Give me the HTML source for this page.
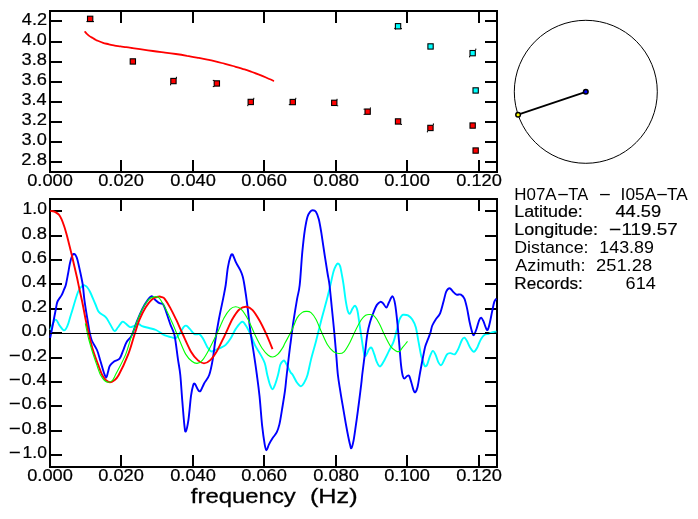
<!DOCTYPE html>
<html lang="en"><head><meta charset="utf-8"><title>H07A-TA - I05A-TA</title>
<style>html,body{margin:0;padding:0;background:#fff;}svg{display:block;will-change:transform;}text{font-family:"Liberation Sans",sans-serif;fill:#000;}</style>
</head><body>
<svg width="698" height="519" viewBox="0 0 698 519">
<rect x="0" y="0" width="698" height="519" fill="#fff"/>
<g id="top">
<path d="M85.2 32.0C85.5 32.3 86.2 33.2 86.9 33.9C87.6 34.5 88.4 35.3 89.2 35.9C90.0 36.5 90.7 36.9 91.6 37.4C92.5 37.9 93.5 38.6 94.5 39.1C95.5 39.6 95.9 40.0 97.3 40.6C98.7 41.2 101.2 42.3 103.1 42.9C105.0 43.5 107.0 43.8 108.9 44.3C110.8 44.8 112.8 45.2 114.7 45.6C116.6 46.0 118.6 46.1 120.5 46.4C122.4 46.7 124.3 46.9 126.2 47.2C128.1 47.5 129.7 47.7 132.0 48.0C134.3 48.3 136.5 48.6 140.0 49.1C143.5 49.6 148.7 50.4 152.9 51.0C157.1 51.6 161.2 52.1 165.0 52.6C168.8 53.1 172.1 53.5 175.8 54.0C179.5 54.5 183.2 55.1 187.0 55.8C190.8 56.4 195.0 57.2 198.8 57.9C202.6 58.6 206.2 59.4 210.0 60.2C213.8 61.1 217.9 62.0 221.7 63.0C225.5 64.0 229.2 64.9 233.0 66.0C236.8 67.1 241.4 68.4 244.6 69.4C247.8 70.4 249.7 71.2 252.0 72.0C254.3 72.8 256.1 73.5 258.4 74.4C260.7 75.3 263.5 76.4 266.0 77.5C268.5 78.6 272.1 80.2 273.3 80.8" fill="none" stroke="#f00" stroke-width="1.8" stroke-linejoin="round" stroke-linecap="round"/>
<path d="M86.4 21.6H94M176.4 76.8V78.6M170.6 84V85.4M212.8 80.4H214.4M212.8 86.6H214.4M253.8 97.8V99.4M247.8 105V106.2M295.8 97.8V99.2M288.8 104.6H290.2M337 98.8V100.2M337.2 105.8H338.2M370.4 107.4V108.8M363.6 109.2H364.8M363.6 114.4H364.8M394.2 28.4H395.6M400.6 28.6H402M395.4 28.4V29.6M475.8 48.6V50M469.6 56V57.4M400.6 124.4H402M433.4 123.4V125M427.4 131V132.4" stroke="#000" stroke-width="1" fill="none"/>
<rect x="87.5" y="16.2" width="5.3" height="5.3" fill="#f00" stroke="#000" stroke-width="1.1"/>
<rect x="130.2" y="58.8" width="5.3" height="5.3" fill="#f00" stroke="#000" stroke-width="1.1"/>
<rect x="170.8" y="78.4" width="5.3" height="5.3" fill="#f00" stroke="#000" stroke-width="1.1"/>
<rect x="214.2" y="80.8" width="5.3" height="5.3" fill="#f00" stroke="#000" stroke-width="1.1"/>
<rect x="248.1" y="99.3" width="5.3" height="5.3" fill="#f00" stroke="#000" stroke-width="1.1"/>
<rect x="290.1" y="99.4" width="5.3" height="5.3" fill="#f00" stroke="#000" stroke-width="1.1"/>
<rect x="331.6" y="100.2" width="5.3" height="5.3" fill="#f00" stroke="#000" stroke-width="1.1"/>
<rect x="365.0" y="109.0" width="5.3" height="5.3" fill="#f00" stroke="#000" stroke-width="1.1"/>
<rect x="395.4" y="118.8" width="5.3" height="5.3" fill="#f00" stroke="#000" stroke-width="1.1"/>
<rect x="427.8" y="125.3" width="5.3" height="5.3" fill="#f00" stroke="#000" stroke-width="1.1"/>
<rect x="470.0" y="122.9" width="5.3" height="5.3" fill="#f00" stroke="#000" stroke-width="1.1"/>
<rect x="473.0" y="147.9" width="5.3" height="5.3" fill="#f00" stroke="#000" stroke-width="1.1"/>
<rect x="395.4" y="23.6" width="5.3" height="5.3" fill="#0ff" stroke="#000" stroke-width="1.1"/>
<rect x="427.9" y="43.8" width="5.3" height="5.3" fill="#0ff" stroke="#000" stroke-width="1.1"/>
<rect x="470.0" y="50.5" width="5.3" height="5.3" fill="#0ff" stroke="#000" stroke-width="1.1"/>
<rect x="473.0" y="87.8" width="5.3" height="5.3" fill="#0ff" stroke="#000" stroke-width="1.1"/>
<path d="M121.0 11.0V23.0M121.0 172.0V160.0M193.0 11.0V23.0M193.0 172.0V160.0M264.0 11.0V23.0M264.0 172.0V160.0M336.0 11.0V23.0M336.0 172.0V160.0M407.0 11.0V23.0M407.0 172.0V160.0M479.0 11.0V23.0M479.0 172.0V160.0M50.0 21.0H62.0M497.0 21.0H485.0M50.0 42.0H62.0M497.0 42.0H485.0M50.0 62.0H62.0M497.0 62.0H485.0M50.0 82.0H62.0M497.0 82.0H485.0M50.0 102.0H62.0M497.0 102.0H485.0M50.0 122.0H62.0M497.0 122.0H485.0M50.0 142.0H62.0M497.0 142.0H485.0M50.0 162.0H62.0M497.0 162.0H485.0" stroke="#000" stroke-width="2" fill="none" shape-rendering="crispEdges"/>
<rect x="50.0" y="11.0" width="447.0" height="161.0" fill="none" stroke="#000" stroke-width="2" shape-rendering="crispEdges"/>
<text x="21.80" y="24.6" font-size="15.6" textLength="25.21" lengthAdjust="spacingAndGlyphs" stroke="#000" stroke-width="0.2">4.2</text>
<text x="21.80" y="44.7" font-size="15.6" textLength="24.98" lengthAdjust="spacingAndGlyphs" stroke="#000" stroke-width="0.2">4.0</text>
<text x="21.51" y="64.8" font-size="15.6" textLength="25.38" lengthAdjust="spacingAndGlyphs" stroke="#000" stroke-width="0.2">3.8</text>
<text x="21.51" y="84.9" font-size="15.6" textLength="25.38" lengthAdjust="spacingAndGlyphs" stroke="#000" stroke-width="0.2">3.6</text>
<text x="21.51" y="105.0" font-size="15.6" textLength="25.11" lengthAdjust="spacingAndGlyphs" stroke="#000" stroke-width="0.2">3.4</text>
<text x="21.50" y="125.1" font-size="15.6" textLength="25.52" lengthAdjust="spacingAndGlyphs" stroke="#000" stroke-width="0.2">3.2</text>
<text x="21.51" y="145.2" font-size="15.6" textLength="25.28" lengthAdjust="spacingAndGlyphs" stroke="#000" stroke-width="0.2">3.0</text>
<text x="21.28" y="165.3" font-size="15.6" textLength="25.62" lengthAdjust="spacingAndGlyphs" stroke="#000" stroke-width="0.2">2.8</text>
<text x="27.19" y="186.4" font-size="15.6" textLength="45.71" lengthAdjust="spacingAndGlyphs" stroke="#000" stroke-width="0.2">0.000</text>
<text x="98.19" y="186.4" font-size="15.6" textLength="45.71" lengthAdjust="spacingAndGlyphs" stroke="#000" stroke-width="0.2">0.020</text>
<text x="170.19" y="186.4" font-size="15.6" textLength="45.71" lengthAdjust="spacingAndGlyphs" stroke="#000" stroke-width="0.2">0.040</text>
<text x="241.19" y="186.4" font-size="15.6" textLength="45.71" lengthAdjust="spacingAndGlyphs" stroke="#000" stroke-width="0.2">0.060</text>
<text x="313.19" y="186.4" font-size="15.6" textLength="45.71" lengthAdjust="spacingAndGlyphs" stroke="#000" stroke-width="0.2">0.080</text>
<text x="384.19" y="186.4" font-size="15.6" textLength="45.71" lengthAdjust="spacingAndGlyphs" stroke="#000" stroke-width="0.2">0.100</text>
<text x="456.19" y="186.4" font-size="15.6" textLength="45.71" lengthAdjust="spacingAndGlyphs" stroke="#000" stroke-width="0.2">0.120</text>
</g>
<g id="bottom">
<path d="M121.0 199.0V211.0M121.0 467.0V455.0M193.0 199.0V211.0M193.0 467.0V455.0M264.0 199.0V211.0M264.0 467.0V455.0M336.0 199.0V211.0M336.0 467.0V455.0M407.0 199.0V211.0M407.0 467.0V455.0M479.0 199.0V211.0M479.0 467.0V455.0M50.0 211.0H62.0M497.0 211.0H485.0M50.0 236.0H62.0M497.0 236.0H485.0M50.0 260.0H62.0M497.0 260.0H485.0M50.0 284.0H62.0M497.0 284.0H485.0M50.0 309.0H62.0M497.0 309.0H485.0M50.0 333.0H62.0M497.0 333.0H485.0M50.0 358.0H62.0M497.0 358.0H485.0M50.0 382.0H62.0M497.0 382.0H485.0M50.0 406.0H62.0M497.0 406.0H485.0M50.0 431.0H62.0M497.0 431.0H485.0M50.0 455.0H62.0M497.0 455.0H485.0" stroke="#000" stroke-width="2" fill="none" shape-rendering="crispEdges"/>
<rect x="50.0" y="199.0" width="447.0" height="268.0" fill="none" stroke="#000" stroke-width="2" shape-rendering="crispEdges"/>
<path d="M50.2 330.1C51.1 328.4 53.8 320.4 55.4 319.7C57.0 319.0 58.2 323.9 59.7 325.7C61.2 327.5 62.8 330.4 64.1 330.4C65.4 330.4 66.3 328.3 67.5 325.7C68.7 323.1 69.2 320.1 71.0 314.5C72.8 308.9 76.1 296.8 78.0 292.0C79.9 287.2 81.2 287.0 82.3 285.9C83.4 284.8 83.7 285.1 84.5 285.3C85.3 285.5 86.1 285.9 87.0 287.0C87.9 288.1 88.7 289.2 90.1 292.0C91.5 294.8 93.8 300.7 95.3 304.0C96.8 307.3 97.1 309.7 98.8 311.9C100.5 314.1 103.8 315.1 105.7 317.1C107.6 319.1 108.5 321.7 110.0 324.0C111.5 326.3 113.1 330.4 114.4 331.0C115.7 331.6 116.5 329.0 117.8 327.5C119.1 326.0 120.9 322.5 122.2 321.8C123.5 321.1 124.3 322.6 125.6 323.5C126.9 324.4 128.6 326.7 130.0 327.1C131.4 327.5 132.9 326.3 134.3 325.8C135.7 325.3 137.3 323.9 138.6 324.0C139.9 324.1 140.4 325.4 142.1 326.1C143.8 326.8 146.7 327.4 149.0 328.0C151.3 328.6 153.7 328.9 156.0 330.0C158.3 331.1 161.5 333.5 163.0 334.4C164.5 335.3 163.5 334.8 165.0 335.3C166.5 335.8 170.1 337.0 172.0 337.4C173.9 337.8 174.9 338.8 176.3 337.9C177.7 337.0 179.3 333.7 180.6 331.8C181.9 329.9 183.0 327.6 184.0 326.6C185.0 325.6 185.7 325.4 186.7 325.8C187.7 326.2 188.7 327.8 190.0 329.2C191.3 330.6 192.9 333.2 194.5 334.1C196.1 335.0 198.3 333.6 199.7 334.4C201.1 335.2 201.8 336.6 203.1 338.8C204.4 341.0 206.2 345.3 207.5 347.4C208.8 349.5 209.7 351.0 211.0 351.4C212.3 351.8 213.7 350.6 215.3 350.0C216.9 349.4 218.8 348.7 220.5 347.8C222.2 346.9 224.0 346.5 225.7 344.8C227.4 343.1 229.2 340.6 230.9 337.9C232.6 335.2 234.2 331.1 236.1 328.4C238.0 325.7 240.5 322.1 242.2 321.8C243.9 321.5 245.1 324.4 246.5 326.6C247.9 328.9 249.4 332.1 250.8 335.3C252.2 338.5 253.6 342.5 255.2 345.7C256.8 348.9 258.8 351.5 260.4 354.4C262.0 357.3 263.5 359.6 264.7 363.0C265.9 366.4 266.4 371.4 267.3 375.0C268.2 378.6 269.0 382.1 269.9 384.5C270.8 386.9 271.6 389.2 272.5 389.2C273.4 389.2 274.2 386.9 275.1 384.5C276.0 382.1 277.1 378.3 278.0 375.0C278.9 371.7 279.5 367.1 280.3 364.8C281.1 362.5 282.1 361.6 282.9 361.0C283.7 360.4 283.8 359.7 285.0 361.5C286.2 363.3 288.9 369.4 290.2 371.7C291.5 373.9 291.6 373.1 292.8 375.0C294.0 376.9 295.7 380.9 297.1 382.8C298.5 384.7 299.8 386.3 301.0 386.3C302.2 386.3 303.0 384.7 304.1 382.8C305.2 380.9 306.4 378.9 307.5 375.0C308.6 371.1 309.6 365.4 311.0 359.6C312.4 353.9 314.5 347.1 316.2 340.5C317.9 333.9 319.7 326.3 321.4 319.7C323.1 313.1 325.1 306.4 326.6 300.6C328.1 294.8 329.2 289.9 330.4 285.0C331.6 280.1 332.6 274.6 333.6 271.3C334.6 268.0 335.5 266.5 336.2 265.2C336.9 263.9 337.2 263.4 337.9 263.5C338.5 263.6 339.4 263.9 340.1 266.1C340.8 268.3 341.6 273.4 342.2 276.5C342.8 279.6 343.0 281.0 343.6 285.0C344.2 289.0 345.0 296.3 345.7 300.6C346.4 304.9 347.1 308.8 347.8 311.0C348.5 313.2 349.2 314.0 350.0 313.6C350.8 313.2 351.7 309.7 352.6 308.4C353.5 307.1 354.4 305.4 355.2 305.8C356.0 306.2 356.8 307.8 357.5 311.0C358.2 314.2 358.8 319.7 359.6 324.9C360.4 330.1 361.4 337.1 362.2 342.2C363.0 347.2 363.7 353.2 364.4 355.2C365.1 357.2 365.7 355.4 366.5 354.4C367.3 353.4 368.2 350.3 369.1 349.2C370.0 348.1 370.8 346.9 371.7 347.8C372.6 348.7 373.4 352.0 374.3 354.4C375.2 356.8 375.9 360.2 376.9 362.2C377.8 364.2 378.9 366.6 380.0 366.5C381.1 366.4 382.3 363.9 383.8 361.3C385.3 358.7 387.4 354.1 389.0 350.9C390.6 347.7 392.1 345.7 393.4 342.2C394.7 338.7 395.8 333.9 396.8 330.1C397.8 326.4 398.5 322.2 399.4 319.7C400.3 317.2 401.3 316.1 402.0 315.3C402.7 314.5 402.7 314.7 403.7 314.7C404.7 314.7 406.6 314.6 408.0 315.4C409.4 316.2 411.0 317.4 412.3 319.4C413.6 321.4 414.8 323.6 415.8 327.2C416.8 330.8 417.5 336.5 418.4 341.1C419.3 345.7 420.3 351.8 421.0 355.0C421.7 358.2 422.1 358.6 422.7 360.4C423.3 362.2 424.1 365.3 424.8 366.0C425.5 366.7 426.3 366.2 427.1 364.7C427.9 363.2 428.8 359.2 429.7 356.9C430.6 354.6 431.8 351.2 432.8 350.9C433.8 350.6 434.8 353.3 435.7 355.2C436.6 357.1 437.4 360.4 438.3 362.1C439.2 363.8 440.1 365.4 441.0 365.3C441.9 365.2 442.6 363.1 443.6 361.3C444.6 359.5 445.9 355.7 447.0 354.3C448.1 352.9 449.2 353.1 450.5 353.1C451.8 353.1 453.5 355.0 454.8 354.3C456.1 353.6 457.1 351.2 458.3 348.9C459.5 346.5 460.8 342.1 461.8 340.2C462.8 338.3 463.5 337.5 464.4 337.6C465.3 337.8 466.0 339.4 467.0 341.1C468.0 342.8 469.2 346.2 470.4 348.0C471.5 349.8 472.7 351.9 473.9 351.8C475.1 351.7 476.2 349.3 477.4 347.2C478.5 345.1 479.6 341.4 480.8 339.4C482.0 337.4 483.0 335.9 484.3 335.0C485.6 334.1 487.2 334.3 488.6 333.8C490.1 333.3 491.7 332.5 493.0 332.1C494.3 331.7 495.8 331.7 496.4 331.6" fill="none" stroke="#0ff" stroke-width="1.9" stroke-linejoin="round"/>
<path d="M50.2 337.9C50.6 335.7 51.9 329.7 52.8 324.9C53.7 320.1 55.0 313.2 55.8 309.3C56.6 305.4 56.5 303.8 57.5 301.5C58.5 299.2 60.4 297.4 61.5 295.4C62.6 293.4 63.4 291.0 64.1 289.3C64.8 287.6 65.1 287.6 65.8 285.0C66.5 282.4 67.3 277.7 68.0 274.0C68.7 270.3 69.3 266.0 70.0 263.0C70.7 260.0 71.4 257.5 72.0 256.0C72.6 254.5 73.0 254.2 73.6 254.0C74.2 253.8 74.8 254.0 75.5 255.0C76.2 256.0 76.8 257.3 77.5 260.0C78.2 262.7 79.1 266.8 80.0 271.0C80.9 275.2 82.0 280.1 82.8 285.0C83.5 289.9 83.7 294.8 84.5 300.6C85.3 306.4 86.6 314.4 87.5 319.7C88.4 325.0 89.0 329.2 89.7 332.7C90.4 336.2 90.6 337.6 91.8 340.5C93.0 343.4 95.5 346.5 97.0 350.0C98.5 353.5 99.3 357.5 100.5 361.3C101.7 365.1 103.0 370.3 104.0 373.0C105.0 375.7 105.6 377.7 106.3 377.5C107.0 377.3 107.4 374.0 108.0 372.0C108.6 370.0 108.9 367.4 110.0 365.6C111.1 363.8 112.8 362.5 114.4 361.3C116.0 360.1 118.2 360.4 119.6 358.7C121.0 357.0 121.8 353.6 123.0 350.9C124.2 348.1 125.0 344.8 126.5 342.2C128.0 339.6 130.0 338.8 131.7 335.3C133.4 331.8 135.2 325.7 136.9 321.4C138.6 317.1 140.4 312.8 142.1 309.3C143.8 305.8 145.7 302.8 147.3 300.6C148.9 298.4 150.3 296.5 151.6 296.3C152.9 296.1 153.8 298.6 155.1 299.7C156.4 300.8 158.1 302.5 159.4 303.2C160.7 303.9 162.0 303.2 162.9 304.1C163.8 305.0 163.8 305.1 165.0 308.4C166.2 311.7 168.6 319.5 170.2 324.0C171.8 328.5 173.2 329.4 174.5 335.3C175.8 341.2 177.0 353.0 178.0 359.6C179.0 366.2 179.6 368.1 180.3 375.0C181.0 381.9 181.6 392.6 182.3 401.0C183.0 409.4 183.8 420.2 184.4 425.3C185.0 430.4 185.1 432.3 185.8 431.4C186.5 430.5 187.5 426.0 188.4 420.1C189.3 414.2 190.2 401.6 191.0 395.8C191.8 390.0 192.5 387.4 193.1 385.4C193.7 383.4 194.0 383.0 194.8 383.7C195.6 384.4 197.1 388.5 198.0 389.7C198.9 390.9 199.5 392.0 200.5 391.0C201.5 390.0 202.6 386.4 204.0 383.7C205.4 381.0 207.8 379.0 209.2 375.0C210.6 371.0 211.7 365.4 212.7 359.6C213.7 353.9 214.3 347.1 215.3 340.5C216.3 333.9 217.5 326.6 218.8 319.7C220.1 312.8 221.9 304.7 223.1 298.9C224.2 293.1 224.9 290.2 225.7 285.0C226.5 279.8 227.0 272.5 227.8 267.8C228.6 263.1 229.7 258.8 230.5 256.6C231.3 254.4 231.7 253.5 232.6 254.5C233.5 255.5 234.8 260.0 236.1 262.6C237.4 265.2 239.3 268.1 240.4 270.4C241.5 272.7 242.0 274.1 242.7 276.5C243.4 278.9 243.6 280.1 244.4 285.0C245.2 289.9 246.5 298.6 247.4 305.8C248.3 313.0 249.0 320.9 250.0 328.4C251.0 335.9 252.2 343.1 253.4 350.9C254.6 358.7 255.9 367.5 256.9 375.0C257.9 382.5 258.6 387.4 259.5 395.8C260.4 404.2 261.2 417.2 262.1 425.3C263.0 433.4 264.0 440.2 264.7 444.4C265.4 448.6 265.7 450.4 266.4 450.4C267.1 450.4 268.0 446.4 269.0 444.4C270.0 442.4 271.2 440.3 272.5 438.3C273.8 436.3 275.7 434.5 276.8 432.2C277.9 429.9 278.5 428.1 279.4 424.4C280.3 420.6 281.1 415.3 282.0 409.7C282.9 404.1 284.2 396.4 285.0 390.6C285.8 384.8 285.8 382.5 286.7 375.0C287.6 367.5 289.0 354.9 290.2 345.7C291.4 336.5 292.5 327.5 293.7 319.7C294.9 311.9 296.1 304.7 297.1 298.9C298.1 293.1 298.8 292.8 299.7 285.0C300.6 277.2 301.4 261.4 302.3 252.2C303.2 243.0 304.0 235.6 304.9 229.7C305.8 223.8 306.6 219.7 307.5 216.7C308.4 213.7 309.2 212.9 310.1 211.8C311.0 210.7 311.7 210.3 312.7 210.3C313.7 210.3 314.9 210.3 315.9 211.8C316.9 213.3 317.9 215.8 318.8 219.3C319.7 222.9 320.4 227.3 321.4 233.1C322.3 238.9 323.5 247.3 324.5 254.0C325.5 260.6 326.7 267.8 327.5 273.0C328.3 278.2 328.8 279.2 329.5 285.0C330.2 290.8 331.0 299.4 331.8 307.5C332.6 315.6 333.7 325.8 334.4 333.6C335.1 341.4 335.6 347.5 336.2 354.4C336.8 361.3 337.2 368.7 337.9 375.0C338.6 381.3 339.5 385.9 340.5 392.3C341.5 398.7 342.9 406.5 344.0 413.1C345.1 419.8 346.4 427.0 347.4 432.2C348.4 437.4 349.3 441.7 350.0 444.4C350.7 447.1 350.8 448.8 351.4 448.2C352.0 447.6 352.7 445.0 353.5 440.9C354.3 436.8 355.2 429.7 356.1 423.6C357.0 417.5 357.8 411.1 358.7 404.5C359.6 397.9 360.7 388.6 361.3 383.7C361.9 378.8 361.6 379.9 362.2 375.0C362.8 370.1 363.9 361.3 364.8 354.4C365.7 347.5 366.5 339.0 367.4 333.6C368.3 328.2 369.0 325.8 370.0 322.3C371.0 318.8 372.2 315.6 373.4 312.7C374.5 309.8 375.7 306.7 376.9 304.9C378.1 303.1 379.4 302.1 380.4 301.8C381.4 301.5 382.0 302.2 383.0 303.2C384.0 304.1 385.4 307.6 386.4 307.5C387.4 307.4 388.0 304.2 389.0 302.3C390.0 300.4 391.5 296.0 392.5 296.3C393.5 296.6 394.3 299.6 395.1 304.1C395.9 308.6 396.7 316.2 397.4 323.1C398.1 330.0 398.8 338.6 399.4 345.7C400.0 352.8 400.5 360.6 401.1 365.6C401.7 370.7 402.2 373.8 402.8 376.0C403.4 378.2 403.8 378.6 404.5 378.6C405.2 378.6 406.3 376.4 407.1 376.0C407.9 375.6 408.5 374.8 409.2 376.0C409.9 377.2 410.8 380.6 411.5 383.0C412.2 385.4 413.0 389.2 413.7 390.7C414.4 392.2 414.9 392.6 415.5 392.0C416.1 391.4 416.7 390.6 417.5 387.3C418.3 384.1 419.2 377.3 420.1 372.5C421.0 367.7 421.8 363.1 422.7 358.7C423.6 354.3 424.4 349.5 425.3 346.3C426.2 343.1 427.0 341.7 427.9 339.4C428.8 337.1 429.8 334.7 430.5 332.4C431.2 330.1 431.4 327.7 432.3 325.5C433.2 323.3 434.4 321.4 435.7 319.4C437.0 317.4 438.8 316.3 440.1 313.3C441.4 310.3 442.6 304.8 443.6 301.2C444.6 297.6 445.2 293.9 446.2 291.7C447.2 289.5 448.5 288.2 449.6 288.2C450.8 288.2 451.9 290.6 453.1 291.7C454.3 292.8 455.3 294.1 456.6 294.6C457.9 295.1 459.6 293.9 460.9 294.6C462.2 295.3 463.4 296.4 464.4 298.6C465.4 300.9 466.1 304.2 467.0 308.1C467.9 312.0 468.7 317.9 469.6 322.0C470.5 326.1 471.5 330.2 472.2 332.4C472.9 334.6 473.2 335.6 473.9 335.0C474.6 334.4 475.6 331.4 476.5 329.0C477.4 326.6 478.3 322.2 479.1 320.3C479.9 318.4 480.5 317.6 481.2 317.7C481.9 317.8 482.6 319.5 483.4 321.2C484.2 322.9 485.3 326.7 486.0 328.1C486.7 329.5 487.1 330.8 487.8 329.8C488.5 328.8 489.3 325.0 490.0 322.0C490.7 319.0 491.4 314.9 492.1 311.6C492.8 308.3 493.5 304.3 494.2 302.1C494.9 299.9 496.0 299.2 496.4 298.6" fill="none" stroke="#00f" stroke-width="1.9" stroke-linejoin="round"/>
<path d="M50.2 210.9C50.7 210.9 52.1 211.0 53.0 211.2C53.9 211.4 54.4 211.5 55.4 212.1C56.4 212.7 57.9 213.5 58.9 214.7C59.9 215.9 60.6 217.2 61.5 219.1C62.4 221.0 63.2 223.4 64.1 226.0C65.0 228.6 65.8 231.5 66.7 234.7C67.6 237.9 68.4 241.6 69.3 245.1C70.2 248.6 71.0 251.9 71.9 255.5C72.8 259.1 73.6 263.1 74.5 266.8C75.4 270.6 76.3 274.4 77.1 278.0C77.9 281.6 78.4 284.4 79.3 288.5C80.2 292.6 81.2 297.1 82.3 302.3C83.4 307.5 84.6 314.5 85.7 319.7C86.8 324.9 87.5 328.6 88.7 333.5C89.9 338.4 91.0 343.7 92.7 349.2C94.4 354.7 97.2 362.2 98.8 366.5C100.4 370.8 101.0 372.7 102.2 375.0C103.4 377.3 104.7 379.1 106.0 380.3C107.3 381.5 108.7 382.3 110.0 382.3C111.3 382.3 112.5 381.7 114.0 380.5C115.5 379.3 116.3 379.4 118.7 375.0C121.1 370.6 125.6 361.0 128.2 354.4C130.8 347.8 132.4 341.1 134.3 335.3C136.2 329.5 137.6 324.3 139.5 319.7C141.4 315.1 143.4 311.0 145.6 307.5C147.8 304.0 150.3 300.7 152.5 298.9C154.7 297.1 157.0 296.9 158.6 296.6C160.2 296.3 161.0 296.8 162.0 297.2C163.0 297.6 163.3 297.1 164.7 298.9C166.1 300.7 168.5 304.6 170.4 308.1C172.3 311.6 174.2 315.6 176.2 319.7C178.2 323.8 179.7 327.6 182.2 333.0C184.7 338.4 188.4 347.2 191.0 351.8C193.6 356.4 195.8 358.5 198.0 360.4C200.2 362.3 202.0 363.4 204.0 363.4C206.0 363.4 207.8 362.5 210.0 360.4C212.2 358.3 214.5 355.1 217.0 350.9C219.5 346.7 222.2 340.6 224.8 335.3C227.4 330.0 230.1 323.1 232.6 318.8C235.1 314.5 237.3 311.3 239.6 309.3C241.9 307.3 244.0 306.6 246.2 306.7C248.4 306.8 250.4 307.8 252.6 310.1C254.8 312.4 257.3 316.7 259.5 320.5C261.7 324.3 263.4 327.9 265.6 332.7C267.8 337.5 271.4 346.4 272.5 349.2" fill="none" stroke="#f00" stroke-width="1.9" stroke-linejoin="round"/>
<path d="M85.3 323.3C85.8 325.6 87.1 332.5 88.2 337.0C89.3 341.5 90.5 345.5 92.0 350.5C93.5 355.5 96.1 362.9 97.5 367.0C98.9 371.1 99.3 372.8 100.5 375.0C101.7 377.2 103.2 379.3 104.5 380.5C105.8 381.7 107.2 382.3 108.5 382.3C109.8 382.3 111.3 381.5 112.5 380.3C113.7 379.1 113.2 379.3 115.4 375.0C117.6 370.7 123.0 361.0 125.7 354.4C128.4 347.8 129.2 342.5 131.8 335.3C134.4 328.1 138.6 316.9 141.4 311.0C144.2 305.1 146.4 302.1 148.5 299.7C150.6 297.3 152.4 297.1 154.2 296.8C155.9 296.5 157.2 296.0 159.0 297.8C160.8 299.6 162.7 303.1 165.0 307.5C167.3 311.9 170.5 318.8 172.8 324.0C175.1 329.2 176.7 333.7 178.9 338.8C181.1 343.9 183.6 350.6 185.8 354.4C188.0 358.1 190.0 359.8 191.9 361.3C193.8 362.8 195.4 363.5 197.1 363.4C198.8 363.2 200.3 362.8 202.3 360.4C204.3 358.0 206.8 353.7 209.2 349.2C211.6 344.7 214.5 338.8 217.0 333.6C219.5 328.4 221.8 322.1 224.0 318.0C226.2 313.9 228.1 311.2 230.0 309.3C231.9 307.4 233.8 306.7 235.7 306.7C237.6 306.7 239.2 307.1 241.3 309.3C243.4 311.5 245.9 315.4 248.2 319.7C250.5 324.0 252.9 330.5 255.2 335.3C257.5 340.1 259.9 345.0 262.1 348.3C264.3 351.6 266.4 353.8 268.2 355.2C270.0 356.6 271.3 357.1 272.9 357.0C274.5 356.9 276.0 356.0 277.7 354.4C279.4 352.8 281.7 349.3 282.9 347.4C284.1 345.5 283.5 346.0 285.0 343.1C286.5 340.2 289.9 334.3 291.9 330.1C293.9 325.9 295.4 320.8 297.1 317.9C298.8 314.9 300.7 313.5 302.3 312.4C303.9 311.3 305.2 311.3 306.7 311.4C308.1 311.4 309.4 311.3 311.0 312.7C312.6 314.1 314.5 316.5 316.2 319.7C317.9 322.9 319.5 327.6 321.4 331.8C323.3 336.0 325.5 341.5 327.5 344.8C329.5 348.1 331.7 350.4 333.6 351.8C335.5 353.2 337.1 353.5 338.8 353.5C340.5 353.5 342.1 353.7 344.0 351.8C345.9 349.9 348.0 346.0 350.0 342.2C352.0 338.4 354.2 332.9 356.1 329.2C358.0 325.4 359.7 322.0 361.3 319.7C362.9 317.4 364.2 316.2 365.6 315.3C367.1 314.4 368.6 314.4 370.0 314.5C371.4 314.6 372.7 314.6 374.3 316.2C375.9 317.8 377.8 320.8 379.5 324.0C381.2 327.2 382.8 331.5 384.7 335.3C386.6 339.1 388.9 344.0 390.8 346.6C392.7 349.2 394.6 350.1 396.0 350.9C397.4 351.7 398.3 352.0 399.4 351.4C400.5 350.8 401.4 348.9 402.8 347.2C404.2 345.5 406.7 342.4 407.5 341.4" fill="none" stroke="#0f0" stroke-width="1.1" stroke-linejoin="round"/>
<line x1="50.0" y1="333.5" x2="497.0" y2="333.5" stroke="#000" stroke-width="1" shape-rendering="crispEdges"/>
<text font-size="15.6" stroke="#000" stroke-width="0.2"><tspan x="22.57" y="214.40" textLength="24.29" lengthAdjust="spacingAndGlyphs">1.0</tspan></text>
<text font-size="15.6" stroke="#000" stroke-width="0.2"><tspan x="21.48" y="238.76" textLength="25.51" lengthAdjust="spacingAndGlyphs">0.8</tspan></text>
<text font-size="15.6" stroke="#000" stroke-width="0.2"><tspan x="21.48" y="263.12" textLength="25.51" lengthAdjust="spacingAndGlyphs">0.6</tspan></text>
<text font-size="15.6" stroke="#000" stroke-width="0.2"><tspan x="21.49" y="287.48" textLength="25.24" lengthAdjust="spacingAndGlyphs">0.4</tspan></text>
<text font-size="15.6" stroke="#000" stroke-width="0.2"><tspan x="21.48" y="311.84" textLength="25.64" lengthAdjust="spacingAndGlyphs">0.2</tspan></text>
<text font-size="15.6" stroke="#000" stroke-width="0.2"><tspan x="21.49" y="336.20" textLength="25.41" lengthAdjust="spacingAndGlyphs">0.0</tspan></text>
<text font-size="15.6" stroke="#000" stroke-width="0.2"><tspan x="8.26" y="359.52" textLength="13.18" lengthAdjust="spacingAndGlyphs">-</tspan><tspan x="21.48" y="360.56" textLength="25.64" lengthAdjust="spacingAndGlyphs">0.2</tspan></text>
<text font-size="15.6" stroke="#000" stroke-width="0.2"><tspan x="8.26" y="383.88" textLength="13.18" lengthAdjust="spacingAndGlyphs">-</tspan><tspan x="21.49" y="384.92" textLength="25.24" lengthAdjust="spacingAndGlyphs">0.4</tspan></text>
<text font-size="15.6" stroke="#000" stroke-width="0.2"><tspan x="8.26" y="408.24" textLength="13.18" lengthAdjust="spacingAndGlyphs">-</tspan><tspan x="21.48" y="409.28" textLength="25.51" lengthAdjust="spacingAndGlyphs">0.6</tspan></text>
<text font-size="15.6" stroke="#000" stroke-width="0.2"><tspan x="8.26" y="432.60" textLength="13.18" lengthAdjust="spacingAndGlyphs">-</tspan><tspan x="21.48" y="433.64" textLength="25.51" lengthAdjust="spacingAndGlyphs">0.8</tspan></text>
<text font-size="15.6" stroke="#000" stroke-width="0.2"><tspan x="8.26" y="456.96" textLength="13.18" lengthAdjust="spacingAndGlyphs">-</tspan><tspan x="22.57" y="458.00" textLength="24.29" lengthAdjust="spacingAndGlyphs">1.0</tspan></text>
<text x="27.19" y="481.4" font-size="15.6" textLength="45.71" lengthAdjust="spacingAndGlyphs" stroke="#000" stroke-width="0.2">0.000</text>
<text x="98.19" y="481.4" font-size="15.6" textLength="45.71" lengthAdjust="spacingAndGlyphs" stroke="#000" stroke-width="0.2">0.020</text>
<text x="170.19" y="481.4" font-size="15.6" textLength="45.71" lengthAdjust="spacingAndGlyphs" stroke="#000" stroke-width="0.2">0.040</text>
<text x="241.19" y="481.4" font-size="15.6" textLength="45.71" lengthAdjust="spacingAndGlyphs" stroke="#000" stroke-width="0.2">0.060</text>
<text x="313.19" y="481.4" font-size="15.6" textLength="45.71" lengthAdjust="spacingAndGlyphs" stroke="#000" stroke-width="0.2">0.080</text>
<text x="384.19" y="481.4" font-size="15.6" textLength="45.71" lengthAdjust="spacingAndGlyphs" stroke="#000" stroke-width="0.2">0.100</text>
<text x="456.19" y="481.4" font-size="15.6" textLength="45.71" lengthAdjust="spacingAndGlyphs" stroke="#000" stroke-width="0.2">0.120</text>
<text font-size="21" stroke="#000" stroke-width="0.3"><tspan x="190.87" y="503.10" textLength="104.97" lengthAdjust="spacingAndGlyphs">frequency</tspan><tspan x="296.00" y="503.10" textLength="4.00" lengthAdjust="spacingAndGlyphs"> </tspan><tspan x="309.93" y="503.10" textLength="47.74" lengthAdjust="spacingAndGlyphs">(Hz)</tspan></text>
</g>
<g id="azimuth">
<circle cx="585.8" cy="91.8" r="71.5" fill="none" stroke="#000" stroke-width="1"/>
<line x1="585.8" y1="91.8" x2="518.1" y2="114.7" stroke="#000" stroke-width="1.8"/>
<circle cx="585.8" cy="91.8" r="2.3" fill="#00f" stroke="#000" stroke-width="1.5"/>
<circle cx="518.1" cy="114.7" r="2.3" fill="#ff0" stroke="#000" stroke-width="1.5"/>
</g>
<g id="info" font-size="16">
<text font-size="16"><tspan x="514.31" y="199.60" textLength="42.33" lengthAdjust="spacingAndGlyphs">H07A</tspan><tspan x="556.48" y="198.54" textLength="13.05" lengthAdjust="spacingAndGlyphs">-</tspan><tspan x="568.34" y="199.60" textLength="19.79" lengthAdjust="spacingAndGlyphs">TA</tspan><tspan x="590.00" y="199.60" textLength="4.00" lengthAdjust="spacingAndGlyphs"> </tspan><tspan x="598.24" y="198.54" textLength="13.32" lengthAdjust="spacingAndGlyphs">-</tspan><tspan x="612.00" y="199.60" textLength="4.00" lengthAdjust="spacingAndGlyphs"> </tspan><tspan x="620.61" y="199.60" textLength="35.63" lengthAdjust="spacingAndGlyphs">I05A</tspan><tspan x="655.48" y="198.54" textLength="13.05" lengthAdjust="spacingAndGlyphs">-</tspan><tspan x="667.12" y="199.60" textLength="20.71" lengthAdjust="spacingAndGlyphs">TA</tspan></text>
<text font-size="16" stroke="#000" stroke-width="0.18"><tspan x="514.23" y="217.20" textLength="68.58" lengthAdjust="spacingAndGlyphs">Latitude:</tspan><tspan x="590.00" y="217.20" textLength="4.00" lengthAdjust="spacingAndGlyphs"> </tspan><tspan x="615.40" y="217.20" textLength="45.67" lengthAdjust="spacingAndGlyphs">44.59</tspan></text>
<text font-size="16" stroke="#000" stroke-width="0.18"><tspan x="514.23" y="234.80" textLength="83.80" lengthAdjust="spacingAndGlyphs">Longitude:</tspan><tspan x="600.00" y="234.80" textLength="4.00" lengthAdjust="spacingAndGlyphs"> </tspan><tspan x="608.20" y="233.74" textLength="13.59" lengthAdjust="spacingAndGlyphs">-</tspan><tspan x="621.47" y="234.80" textLength="56.18" lengthAdjust="spacingAndGlyphs">119.57</tspan></text>
<text font-size="16"><tspan x="514.24" y="252.80" textLength="74.27" lengthAdjust="spacingAndGlyphs">Distance:</tspan><tspan x="590.00" y="252.80" textLength="4.00" lengthAdjust="spacingAndGlyphs"> </tspan><tspan x="599.35" y="252.80" textLength="54.50" lengthAdjust="spacingAndGlyphs">143.89</tspan></text>
<text font-size="16"><tspan x="515.36" y="270.70" textLength="70.08" lengthAdjust="spacingAndGlyphs">Azimuth:</tspan><tspan x="586.00" y="270.70" textLength="4.00" lengthAdjust="spacingAndGlyphs"> </tspan><tspan x="595.98" y="270.70" textLength="56.12" lengthAdjust="spacingAndGlyphs">251.28</tspan></text>
<text font-size="16" stroke="#000" stroke-width="0.18"><tspan x="514.30" y="288.50" textLength="68.45" lengthAdjust="spacingAndGlyphs">Records:</tspan><tspan x="590.00" y="288.50" textLength="4.00" lengthAdjust="spacingAndGlyphs"> </tspan></text>
<text font-size="16"><tspan x="625.60" y="288.50" textLength="30.14" lengthAdjust="spacingAndGlyphs">614</tspan></text>
</g>
</svg></body></html>
